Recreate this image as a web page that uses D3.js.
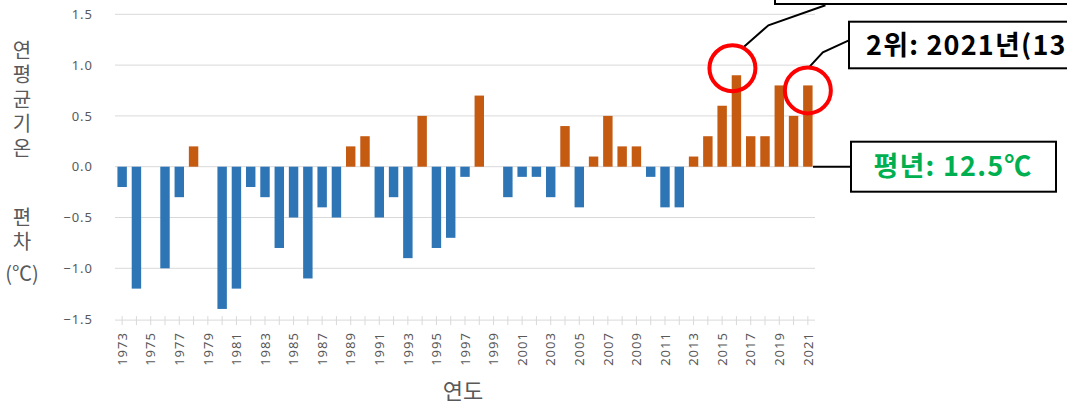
<!DOCTYPE html>
<html>
<head>
<meta charset="utf-8">
<script src="https://cdn.jsdelivr.net/npm/d3@7"></script>
<style>
  html, body { margin: 0; padding: 0; background: #fff; }
  svg { display: block; }
  .tick-label { font-family: "Noto Sans", sans-serif; font-size: 13px; fill: #595959; letter-spacing: 1px; }
  .axis-title { font-family: "Noto Sans CJK KR", sans-serif; fill: #595959; }
  .vertical { writing-mode: vertical-rl; text-orientation: upright; letter-spacing: 4.6px; }
  .callout { font-family: "Noto Sans CJK KR", sans-serif; font-weight: bold; font-size: 27px; letter-spacing: 1.2px; }
</style>
</head>
<body>
<div id="chart"></div>
<script>
(function () {
  // years on the category axis
  const years = [
    1973, 1974, 1975, 1976, 1977, 1978, 1979, 1980, 1981, 1982,
    1983, 1984, 1985, 1986, 1987, 1988, 1989, 1990, 1991, 1992,
    1993, 1994, 1995, 1996, 1997, 1998, 1999, 2000, 2001, 2002,
    2003, 2004, 2005, 2006, 2007, 2008, 2009, 2010, 2011, 2012,
    2013, 2014, 2015, 2016, 2017, 2018, 2019, 2020, 2021,
  ];
  // annual mean temperature anomaly (℃)
  const anomalies = [
    -0.2, -1.2, 0, -1.0, -0.3, 0.2, 0, -1.4, -1.2, -0.2,
    -0.3, -0.8, -0.5, -1.1, -0.4, -0.5, 0.2, 0.3, -0.5, -0.3,
    -0.9, 0.5, -0.8, -0.7, -0.1, 0.7, 0, -0.3, -0.1, -0.1,
    -0.3, 0.4, -0.4, 0.1, 0.5, 0.2, 0.2, -0.1, -0.4, -0.4,
    0.1, 0.3, 0.6, 0.9, 0.3, 0.3, 0.8, 0.5, 0.8,
  ];
  const yTicks = [1.5, 1.0, 0.5, 0.0, -0.5, -1.0, -1.5];
  const yTitle = ["연평균기온", "편차", "(℃)"];
  const highlights = [
    { year: 2016, label: "1위: 2016년(13.4℃)" },
    { year: 2021, label: "2위: 2021년(13.3℃)" },
  ];
  const normalLabel = "평년: 12.5℃";

  const data = years.map((y, i) => ({ year: y, value: anomalies[i] }));

  const W = 1067;
  const H = 404;
  const plot = { left: 115, right: 815, top: 14.3, bottom: 319.1 };

  const svg = d3
    .select("#chart")
    .append("svg")
    .attr("width", W)
    .attr("height", H);

  const x = d3
    .scaleBand()
    .domain(years)
    .range([plot.left, plot.right])
    .paddingInner(0.34)
    .paddingOuter(0.17);

  const y = d3.scaleLinear().domain([-1.5, 1.5]).range([plot.bottom, plot.top]);

  const cx = (yr) => x(yr) + x.bandwidth() / 2;

  // gridlines (the -1.5 line is the category axis)
  svg
    .append("g")
    .selectAll("line")
    .data(yTicks.filter((d) => d > -1.5))
    .join("line")
    .attr("x1", plot.left)
    .attr("x2", plot.right)
    .attr("y1", (d) => y(d))
    .attr("y2", (d) => y(d))
    .attr("stroke", "#d9d9d9")
    .attr("stroke-width", 1);

  // y tick labels
  svg
    .append("g")
    .selectAll("text")
    .data(yTicks)
    .join("text")
    .attr("class", "tick-label")
    .attr("x", 93)
    .attr("y", (d) => y(d))
    .attr("dy", "0.36em")
    .attr("text-anchor", "end")
    .text((d) => d3.format(".1f")(d));

  // bars
  svg
    .append("g")
    .selectAll("rect")
    .data(data)
    .join("rect")
    .attr("x", (d) => x(d.year))
    .attr("width", x.bandwidth())
    .attr("y", (d) => y(Math.max(0, d.value)))
    .attr("height", (d) => Math.abs(y(d.value) - y(0)))
    .attr("fill", (d) => (d.value > 0 ? "#c55a11" : "#2e75b6"));

  // category axis
  const axisY = y(-1.5) + 1;
  svg
    .append("line")
    .attr("x1", plot.left)
    .attr("x2", plot.right)
    .attr("y1", axisY)
    .attr("y2", axisY)
    .attr("stroke", "#d9d9d9");

  svg
    .append("g")
    .selectAll("line")
    .data(years)
    .join("line")
    .attr("x1", (d) => cx(d))
    .attr("x2", (d) => cx(d))
    .attr("y1", axisY - 4)
    .attr("y2", axisY + 5)
    .attr("stroke", "#d9d9d9");

  // x tick labels, every second year, rotated
  svg
    .append("g")
    .selectAll("text")
    .data(years.filter((d, i) => i % 2 === 0))
    .join("text")
    .attr("class", "tick-label")
    .attr("transform", (d) => `translate(${cx(d)},${axisY + 12}) rotate(-90)`)
    .attr("dy", "0.36em")
    .attr("text-anchor", "end")
    .text((d) => d);

  // axis titles
  svg
    .append("text")
    .attr("class", "axis-title")
    .attr("x", (plot.left + plot.right) / 2 - 2)
    .attr("y", 391)
    .attr("dy", "0.36em")
    .attr("text-anchor", "middle")
    .style("font-size", "22px")
    .text("연도");

  // stacked y title: two upright columns and the unit underneath
  svg
    .append("text")
    .attr("class", "axis-title vertical")
    .attr("x", 22)
    .attr("y", 40)
    .style("font-size", "20px")
    .text(yTitle[0]);

  svg
    .append("text")
    .attr("class", "axis-title vertical")
    .attr("x", 22)
    .attr("y", 207)
    .style("font-size", "20px")
    .text(yTitle[1]);

  svg
    .append("text")
    .attr("class", "axis-title")
    .attr("x", 22)
    .attr("y", 274)
    .attr("dy", "0.36em")
    .attr("text-anchor", "middle")
    .style("font-size", "20px")
    .text(yTitle[2]);

  // --- annotations ---
  const c1 = { x: cx(2016) - 4, y: y(0.9) - 7 };
  const c2 = { x: cx(2021), y: y(0.8) + 5 };
  const line = d3.line();

  const leaders = [
    [[c1.x + 11, c1.y - 21], [c1.x + 36, c1.y - 43], [c1.x + 93, c1.y - 63]],
    [[c2.x + 2, c2.y - 24], [c2.x + 15, c2.y - 38], [c2.x + 41, c2.y - 50]],
    [[plot.right - 2, y(0)], [851, y(0)]],
  ];
  svg
    .append("g")
    .selectAll("path")
    .data(leaders)
    .join("path")
    .attr("d", (d) => line(d))
    .attr("fill", "none")
    .attr("stroke", "#000")
    .attr("stroke-width", 2);

  // callout boxes
  const boxes = [
    { x: 775, y: -46, w: 320, h: 50 },
    { x: 849, y: 21.7, w: 260, h: 46.6 },
    { x: 851, y: 141.7, w: 205, h: 50 },
  ];
  svg
    .append("g")
    .selectAll("rect")
    .data(boxes)
    .join("rect")
    .attr("x", (d) => d.x)
    .attr("y", (d) => d.y)
    .attr("width", (d) => d.w)
    .attr("height", (d) => d.h)
    .attr("fill", "#fff")
    .attr("stroke", "#000")
    .attr("stroke-width", 2);

  svg
    .append("text")
    .attr("class", "callout")
    .attr("x", 866)
    .attr("y", 45)
    .attr("dy", "0.36em")
    .attr("fill", "#000")
    .text(highlights[1].label);

  svg
    .append("text")
    .attr("class", "callout")
    .attr("x", 953)
    .attr("y", 166.5)
    .attr("dy", "0.36em")
    .attr("text-anchor", "middle")
    .attr("fill", "#00b050")
    .text(normalLabel);

  // red circles on the two warmest years
  svg
    .append("g")
    .selectAll("circle")
    .data([c1, c2])
    .join("circle")
    .attr("cx", (d) => d.x)
    .attr("cy", (d) => d.y)
    .attr("r", 23)
    .attr("fill", "none")
    .attr("stroke", "#ff0000")
    .attr("stroke-width", 4);
})();
</script>
</body>
</html>
